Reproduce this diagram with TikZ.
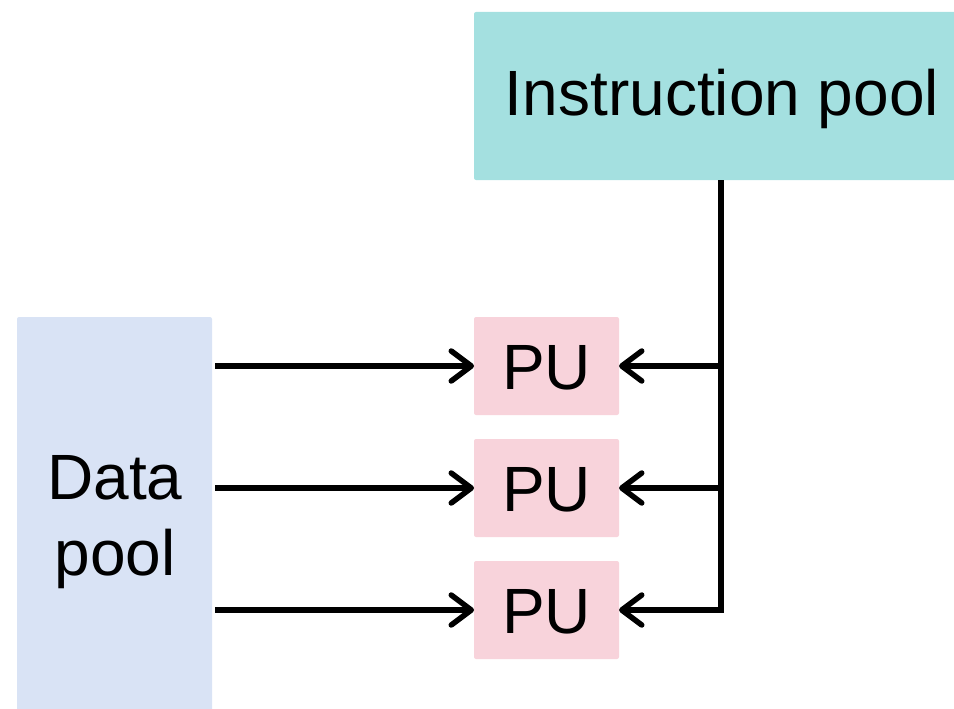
\documentclass[tikz,border=0pt]{standalone}
\usepackage{fontspec}
\setmainfont{Liberation Sans}
\usetikzlibrary{arrows.meta}
\definecolor{instrfill}{HTML}{A4E0E0}
\definecolor{datafill}{HTML}{D9E3F5}
\definecolor{pufill}{HTML}{F8D3DB}
\begin{document}
\begin{tikzpicture}[x=1pt,y=-1pt,
  wire/.style={line width=5.5pt},
  feed/.style={wire, -{Straight Barb[length=20pt,width=30pt,line width=5.5pt,line cap=round,line join=round]}},
  lbl/.style={font=\fontsize{64}{76}\selectfont, align=center}]
\useasboundingbox (0,0) rectangle (954,709);
% pools
\fill[instrfill, rounded corners=2pt] (474,12) rectangle (960,180);
\node[lbl] (instr) at (722,99) {Instruction pool};
\coordinate (instrB) at (721,180);
\fill[datafill, rounded corners=2pt] (17,317) rectangle (212,715);
\node[lbl] (data) at (115,522) {Data\\pool};
% processing units
\foreach \n/\y in {1/366, 2/488, 3/610}{
  \fill[pufill, rounded corners=2pt] (474,\y-49) rectangle (619,\y+49);
  \node[lbl] (pu\n) at (546.5,\y+2) {PU};
  \coordinate (puL\n) at (474,\y);
  \coordinate (puR\n) at (619,\y);
  \coordinate (dsrc\n) at (215,\y);
  \coordinate (tap\n) at (721,\y);
  \draw[feed] (dsrc\n) -- (puL\n);
  \draw[feed] (tap\n) -- (puR\n);
}
\draw[wire] (instrB) -- (tap3) -- ([xshift=2.75pt]tap3);
\end{tikzpicture}
\end{document}
